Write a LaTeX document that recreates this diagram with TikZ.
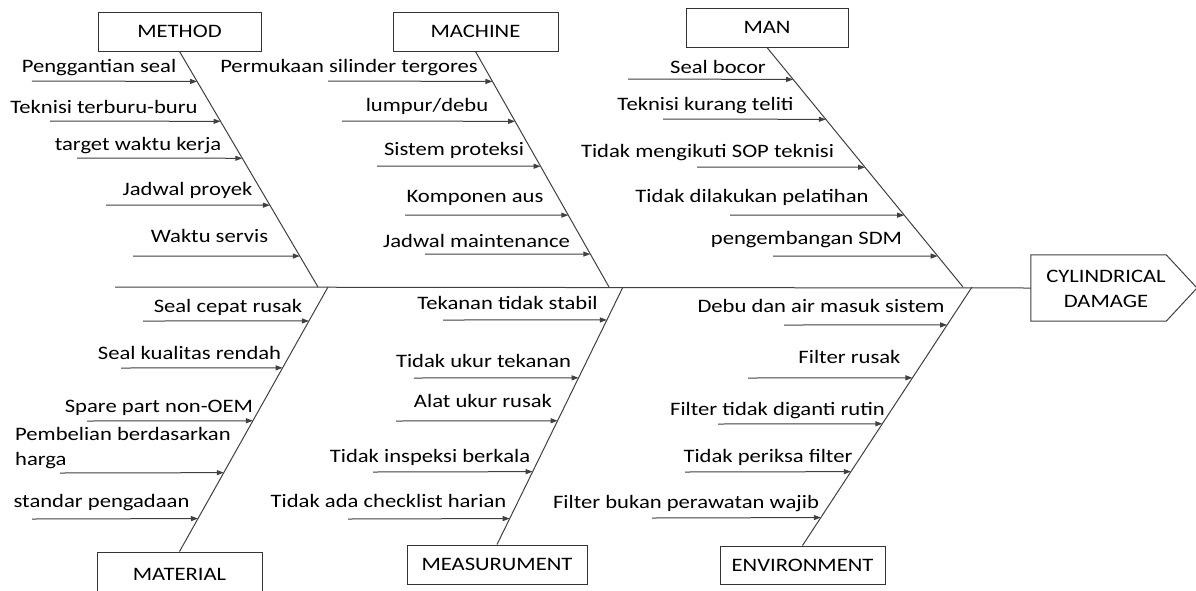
\documentclass[tikz,border=0pt]{standalone}
\usepackage{fontspec}
\setmainfont{Carlito}[FakeStretch=1.19]
\usetikzlibrary{arrows.meta,calc}
\tikzset{
 ln/.style={draw=black!75, line width=1pt},
 causearr/.style={ln, -{Triangle[length=7pt,width=5pt]}},
 ttl/.style={draw=black!80, line width=1pt, inner sep=0pt, minimum height=39pt, font=\fontsize{19}{20}\selectfont, text=black},
 lbl/.style={inner sep=0pt, anchor=base, font=\fontsize{19}{20}\selectfont, text=black},
}
\newcommand{\causearrow}[7]{%
 \coordinate (#1) at (#2,#3);
 \draw[causearr] (#1) -- ($(#4)!{(#3-#6)/(#7-#6)}!(#5)$);}
\begin{document}
\begin{tikzpicture}[x=1pt,y=-1pt]
\clip (0,0) rectangle (1196,590);
\fill[white] (0,0) rectangle (1196,590);
% category boxes
\node[ttl, minimum width=163pt] (mth) at (179.5,31.5) {METHOD};
\node[ttl, minimum width=165pt] (mch) at (475.5,31.5) {MACHINE};
\node[ttl, minimum width=162pt] (man) at (767,27.5) {MAN};
\node[ttl, minimum width=165pt, minimum height=44pt] (mat) at (179.5,574) {MATERIAL};
\node[ttl, minimum width=180pt] (mea) at (497,564.5) {MEASURUMENT};
\node[ttl, minimum width=165pt, minimum height=38pt] (env) at (802.5,565) {ENVIRONMENT};
% effect
\node[inner sep=0pt, minimum width=135pt, minimum height=66pt] (eff) at (1098.5,288) {};
\coordinate (tip) at (1197,288);
\draw[ln] (eff.north west) -- (eff.north east) -- (tip) -- (eff.south east) -- (eff.south west) -- cycle;
\node[inner sep=0pt, align=center, font=\fontsize{19}{25}\selectfont, text=black] (efft) at (1106,289) {CYLINDRICAL\\DAMAGE};
% main line and junctions
\coordinate (mainL) at (115,287);
\coordinate (jm) at (318,287);
\coordinate (jc) at (609,287);
\coordinate (jn) at (963,287);
\coordinate (jmat) at (328,287);
\coordinate (jmea) at (623,287);
\coordinate (jenv) at (972,287);
\draw[ln] (mainL) -- (eff.west);
\draw[ln] (mth.south) -- (jm);
\draw[ln] (mch.south) -- (jc);
\draw[ln] (man.south) -- (jn);
\draw[ln] (mat.north) -- (jmat);
\draw[ln] (mea.north) -- (jmea);
\draw[ln] (env.north) -- (jenv);
% METHOD causes
\causearrow{m1}{32}{81}{mth.south}{jm}{51}{287}
\causearrow{m2}{50}{121}{mth.south}{jm}{51}{287}
\causearrow{m3}{77}{158}{mth.south}{jm}{51}{287}
\causearrow{m4}{106}{205}{mth.south}{jm}{51}{287}
\causearrow{m5}{133}{256}{mth.south}{jm}{51}{287}
\node[lbl] (m1t) at (99,72) {Penggantian seal};
\node[lbl] (m2t) at (104,113) {Teknisi terburu-buru};
\node[lbl] (m3t) at (138,150) {target waktu kerja};
\node[lbl] (m4t) at (187.5,195) {Jadwal proyek};
\node[lbl] (m5t) at (209.5,242) {Waktu servis};
% MACHINE causes
\causearrow{c1}{328}{81}{mch.south}{jc}{51}{287}
\causearrow{c2}{342}{121}{mch.south}{jc}{51}{287}
\causearrow{c3}{377}{166}{mch.south}{jc}{51}{287}
\causearrow{c4}{405}{215}{mch.south}{jc}{51}{287}
\causearrow{c5}{425}{254}{mch.south}{jc}{51}{287}
\node[lbl] (c1t) at (349,72) {Permukaan silinder tergores};
\node[lbl] (c2t) at (427,111) {lumpur/debu};
\node[lbl] (c3t) at (454,155) {Sistem proteksi};
\node[lbl] (c4t) at (475,202) {Komponen aus};
\node[lbl] (c5t) at (476.5,247) {Jadwal maintenance};
% MAN causes
\causearrow{n1}{628}{79}{man.south}{jn}{47}{287}
\causearrow{n2}{663}{119}{man.south}{jn}{47}{287}
\causearrow{n3}{697}{167}{man.south}{jn}{47}{287}
\causearrow{n4}{730}{215}{man.south}{jn}{47}{287}
\causearrow{n5}{773}{256}{man.south}{jn}{47}{287}
\node[lbl] (n1t) at (718,73) {Seal bocor};
\node[lbl] (n2t) at (705.5,110) {Teknisi kurang teliti};
\node[lbl] (n3t) at (707.5,157) {Tidak mengikuti SOP teknisi};
\node[lbl] (n4t) at (752,202) {Tidak dilakukan pelatihan};
\node[lbl] (n5t) at (806.5,244) {pengembangan SDM};
% MATERIAL causes
\causearrow{t1}{143}{321}{jmat}{mat.north}{287}{552}
\causearrow{t2}{121}{368}{jmat}{mat.north}{287}{552}
\causearrow{t3}{87}{421}{jmat}{mat.north}{287}{552}
\causearrow{t4}{60}{473}{jmat}{mat.north}{287}{552}
\causearrow{t5}{32}{519}{jmat}{mat.north}{287}{552}
\node[lbl] (t1t) at (228,312) {Seal cepat rusak};
\node[lbl] (t2t) at (189.5,359) {Seal kualitas rendah};
\node[lbl] (t3t) at (159,412) {Spare part non-OEM};
\node[inner sep=0pt, anchor=west, align=left, font=\fontsize{19}{25}\selectfont, text=black] (t4t) at (15,448) {Pembelian berdasarkan\\harga};
\node[lbl] (t5t) at (101.5,507) {standar pengadaan};
% MEASUREMENT causes
\causearrow{u1}{443}{320}{jmea}{mea.north}{287}{545}
\causearrow{u2}{414}{378}{jmea}{mea.north}{287}{545}
\causearrow{u3}{396}{421}{jmea}{mea.north}{287}{545}
\causearrow{u4}{373}{472}{jmea}{mea.north}{287}{545}
\causearrow{u5}{348}{519}{jmea}{mea.north}{287}{545}
\node[lbl] (u1t) at (507.5,309) {Tekanan tidak stabil};
\node[lbl] (u2t) at (483.5,367) {Tidak ukur tekanan};
\node[lbl] (u3t) at (483,407) {Alat ukur rusak};
\node[lbl] (u4t) at (430,462) {Tidak inspeksi berkala};
\node[lbl] (u5t) at (388.5,507) {Tidak ada checklist harian};
% ENVIRONMENT causes
\causearrow{e1}{784}{325}{jenv}{env.north}{287}{546}
\causearrow{e2}{748}{378}{jenv}{env.north}{287}{546}
\causearrow{e3}{718}{424}{jenv}{env.north}{287}{546}
\causearrow{e4}{685}{472}{jenv}{env.north}{287}{546}
\causearrow{e5}{652}{518}{jenv}{env.north}{287}{546}
\node[lbl] (e1t) at (821,312) {Debu dan air masuk sistem};
\node[lbl] (e2t) at (849.5,363) {Filter rusak};
\node[lbl] (e3t) at (777.5,415) {Filter tidak diganti rutin};
\node[lbl] (e4t) at (768,462) {Tidak periksa filter};
\node[lbl] (e5t) at (686,508) {Filter bukan perawatan wajib};
\end{tikzpicture}
\end{document}
